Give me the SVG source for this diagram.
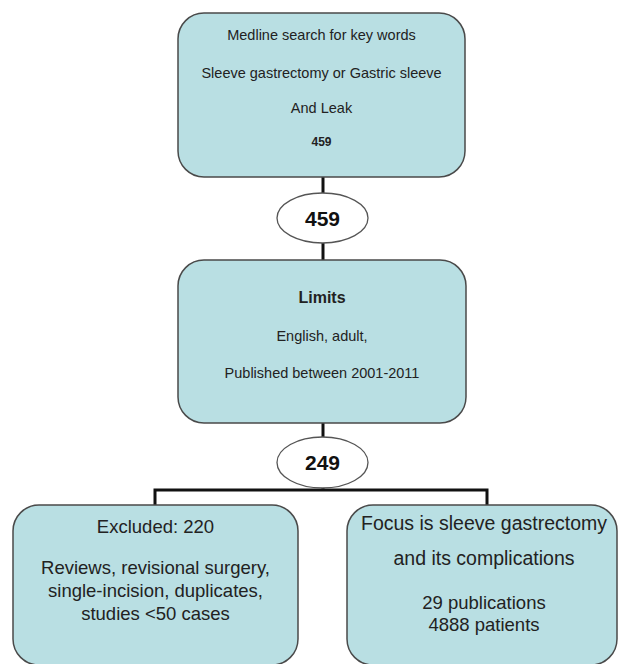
<svg xmlns="http://www.w3.org/2000/svg" width="620" height="664" viewBox="0 0 620 664">
<style>
.box{fill:#b9dfe3;stroke:#4a4a4a;stroke-width:1.5}
.ell{fill:#ffffff;stroke:#555555;stroke-width:1.3}
.con{stroke:#111111;stroke-width:3;fill:none}
text{font-family:"Liberation Sans",Arial,sans-serif;fill:#222222;text-anchor:middle}
.s{font-size:14.5px}
.n{font-size:12px;font-weight:bold}
.b{font-size:21px;font-weight:bold;fill:#111111}
.h{font-size:16px;font-weight:bold}
.m{font-size:18.5px}
.l{font-size:19.5px}
</style>
<rect width="620" height="664" fill="#ffffff"/>
<g id="connectors">
<line class="con" x1="323" y1="177" x2="323" y2="193"/>
<line class="con" x1="323" y1="243" x2="323" y2="260"/>
<line class="con" x1="323" y1="423" x2="323" y2="437"/>
<line class="con" x1="323" y1="488" x2="323" y2="490"/>
<polyline class="con" points="155,505 155,490 487,490 487,505"/>
</g>
<g id="search">
<rect class="box" x="178" y="13" width="287" height="164" rx="26"/>
<text class="s" x="321.5" y="40">Medline search for key words</text>
<text class="s" x="321.5" y="78">Sleeve gastrectomy or Gastric sleeve</text>
<text class="s" x="321.5" y="113">And Leak</text>
<text class="n" x="321.5" y="146">459</text>
</g>
<g id="count459">
<ellipse class="ell" cx="322.5" cy="218" rx="45.5" ry="25"/>
<text class="b" x="322.5" y="226">459</text>
</g>
<g id="limits">
<rect class="box" x="178" y="260" width="288" height="163" rx="26"/>
<text class="h" x="322" y="303">Limits</text>
<text class="s" x="322" y="341">English, adult,</text>
<text class="s" x="322" y="378">Published between 2001-2011</text>
</g>
<g id="count249">
<ellipse class="ell" cx="322.5" cy="462.5" rx="45.5" ry="25.5"/>
<text class="b" x="322.5" y="470">249</text>
</g>
<g id="excluded">
<rect class="box" x="13" y="505" width="285" height="160" rx="26"/>
<text class="m" x="155.5" y="533">Excluded: 220</text>
<text class="m" x="155.5" y="574">Reviews, revisional surgery,</text>
<text class="m" x="155.5" y="597">single-incision, duplicates,</text>
<text class="m" x="155.5" y="620">studies &lt;50 cases</text>
</g>
<g id="focus">
<rect class="box" x="347" y="505" width="270" height="160" rx="26"/>
<text class="l" x="484" y="530">Focus is sleeve gastrectomy</text>
<text class="l" x="484" y="565">and its complications</text>
<text class="m" x="484" y="609">29 publications</text>
<text class="m" x="484" y="631">4888 patients</text>
</g>
</svg>
